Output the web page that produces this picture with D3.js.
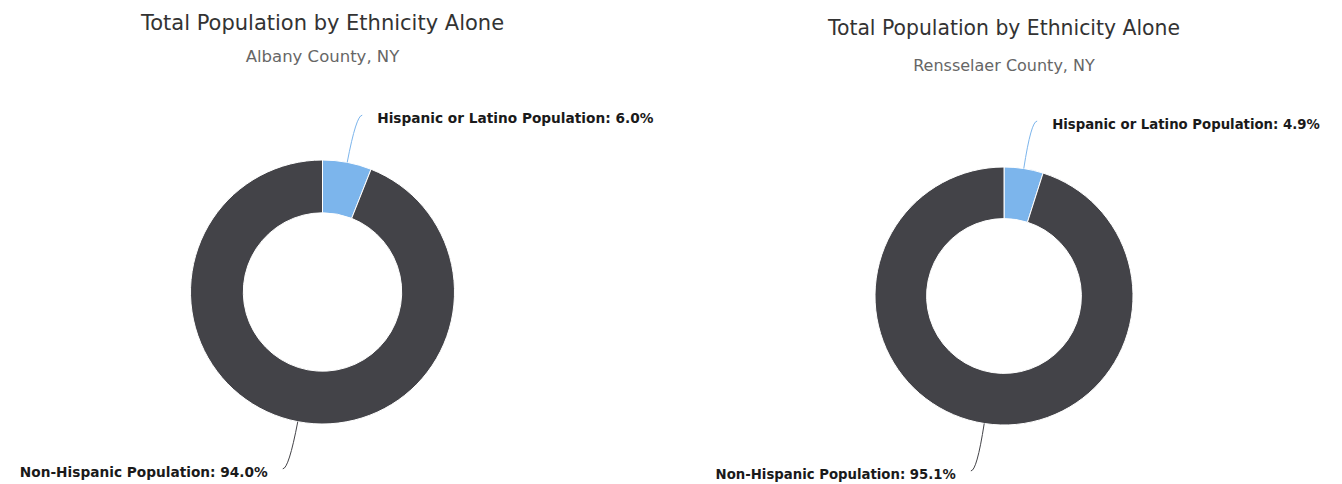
<!DOCTYPE html>
<html>
<head>
<meta charset="utf-8">
<script src="https://cdn.jsdelivr.net/npm/d3@7"></script>
<style>
body{margin:0;background:#fff;}
text{font-family:"DejaVu Sans",sans-serif;}
</style>
</head>
<body>
<script>
var chartTitle="Total Population by Ethnicity Alone";
var counties=["Albany County, NY","Rensselaer County, NY"];
var categories=["Hispanic or Latino Population","Non-Hispanic Population"];
var albanyShares=[6.0,94.0];
var rensselaerShares=[4.9,95.1];
var colors=["#7cb5ec","#434348"];

var width=1342;
var height=484;

// where each donut sits on the page (right one is a touch smaller in the screenshot)
var panels=[
	{county:counties[0],values:albanyShares,cx:322.5,cy:292,r:132,titleY:30,subY:62,s:1},
	{county:counties[1],values:rensselaerShares,cx:1004,cy:296,r:129,titleY:35,subY:71,s:0.97}
];

var svg=d3.select('body').append('svg')
		.attr('width',width)
		.attr('height',height);

var color=d3.scaleOrdinal().domain(categories).range(colors);
var pie=d3.pie().sort(null).value(function(d){return d.val;});
var fmt=d3.format(".1f");

panels.forEach(function(p){
	var g=svg.append('g');

	g.append('text')
		.attr('x',p.cx)
		.attr('y',p.titleY)
		.attr('text-anchor','middle')
		.style('font-size',(21*p.s)+'px')
		.style('fill','#333333')
		.text(chartTitle);

	g.append('text')
		.attr('x',p.cx)
		.attr('y',p.subY)
		.attr('text-anchor','middle')
		.style('font-size',(16.5*p.s)+'px')
		.style('fill','#666666')
		.text(p.county);

	var data=categories.map(function(c,i){return {name:c,val:p.values[i]};});
	var arcs=pie(data);
	var arc=d3.arc().innerRadius(p.r*0.6).outerRadius(p.r);

	var chartGroup=g.append('g')
		.attr('transform','translate('+p.cx+','+p.cy+')');

	chartGroup.selectAll('.slice')
		.data(arcs)
		.enter().append('path')
		.attr('class','slice')
		.attr('d',arc)
		.attr('fill',function(d){return color(d.data.name);})
		.attr('stroke','#ffffff')
		.attr('stroke-width',1);

	// data labels with soft connectors
	var dist=48;
	arcs.forEach(function(a){
		var mid=(a.startAngle+a.endAngle)/2;
		var sx=Math.sin(mid),sy=-Math.cos(mid);
		var side=sx>=0?1:-1;
		var x0=p.r*sx,y0=p.r*sy;
		var kx=(p.r+dist)*sx,ky=(p.r+dist)*sy;
		var ex=kx+side*6;
		var path=d3.path();
		path.moveTo(x0,y0);
		path.quadraticCurveTo(kx,ky,ex,ky);
		chartGroup.append('path')
			.attr('d',path.toString())
			.attr('fill','none')
			.attr('stroke',color(a.data.name))
			.attr('stroke-width',1);
		chartGroup.append('text')
			.attr('x',ex+side*15)
			.attr('y',ky)
			.attr('dy','0.6em')
			.attr('text-anchor',side>0?'start':'end')
			.style('font-size',(13.7*p.s)+'px')
			.style('font-weight','bold')
			.style('fill','#1a1a1a')
			.text(a.data.name+': '+fmt(a.data.val)+'%');
	});
});
</script>
</body>
</html>
